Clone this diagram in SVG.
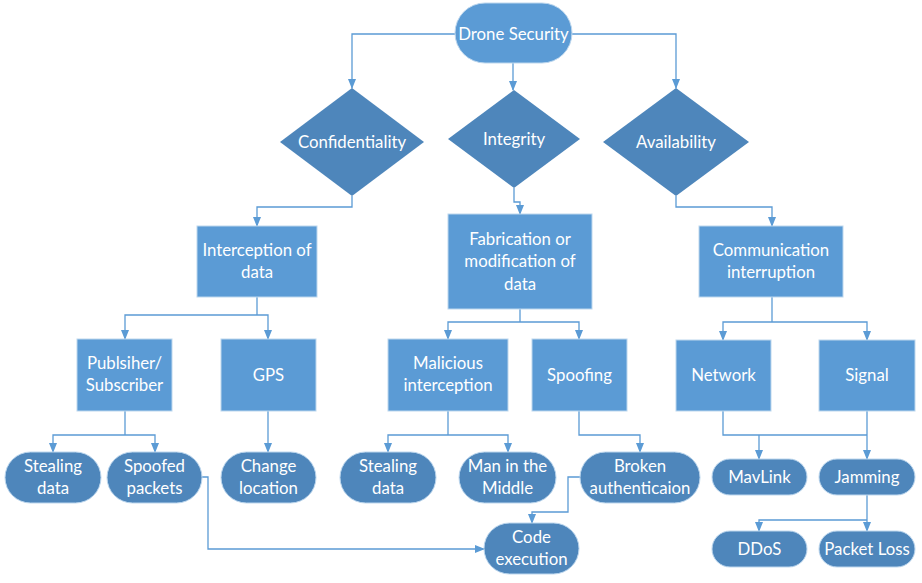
<svg xmlns="http://www.w3.org/2000/svg" width="922" height="583" viewBox="0 0 922 583">
<defs>
<marker id="arr" markerWidth="10" markerHeight="8" refX="9" refY="4" orient="auto" markerUnits="userSpaceOnUse">
<path d="M0,0 L10,4 L0,8 Z" fill="#5B9BD5"/>
</marker>
</defs>
<style>
.box{fill:#5B9BD5;stroke:#BDD7EE;stroke-width:1}
.dark{fill:#4E86BB;stroke:#BDD7EE;stroke-width:1}
.dia{fill:#4E86BB}
.ln{fill:none;stroke:#5B9BD5;stroke-width:1.3}
.ln-a{fill:none;stroke:#5B9BD5;stroke-width:1.3;marker-end:url(#arr)}
text{font-family:Lato,"Open Sans","Liberation Sans",sans-serif;font-size:16.8px;fill:#FFFFFF;text-anchor:middle}
</style>
<rect width="922" height="583" fill="#FFFFFF"/>
<g id="connectors">
<path class="ln-a" d="M455,34 H352 V88"/>
<path class="ln-a" d="M572,34 H676 V88"/>
<path class="ln-a" d="M513,63 V90"/>
<path class="ln-a" d="M352,196 V207 H257 V226"/>
<path class="ln-a" d="M514,188 V202 H520 V214"/>
<path class="ln-a" d="M676,196 V207 H772 V226"/>
<path class="ln" d="M257,297 V315"/>
<path class="ln-a" d="M257,315 H125 V339"/>
<path class="ln-a" d="M257,315 H268 V339"/>
<path class="ln" d="M520,309 V322"/>
<path class="ln-a" d="M520,322 H448 V339"/>
<path class="ln-a" d="M520,322 H579 V339"/>
<path class="ln" d="M772,297 V322"/>
<path class="ln-a" d="M772,322 H723 V340"/>
<path class="ln-a" d="M772,322 H867 V340"/>
<path class="ln" d="M125,411 V435"/>
<path class="ln-a" d="M125,435 H53 V452"/>
<path class="ln-a" d="M125,435 H155 V452"/>
<path class="ln-a" d="M268,411 V452"/>
<path class="ln" d="M448,411 V435"/>
<path class="ln-a" d="M448,435 H388 V452"/>
<path class="ln-a" d="M448,435 H508 V452"/>
<path class="ln-a" d="M579,411 V435 H640 V452"/>
<path class="ln-a" d="M580,477 H568 V512 H532 V523"/>
<path class="ln-a" d="M202,477 H208 V549 H484"/>
<path class="ln" d="M723,411 V435 H867"/>
<path class="ln-a" d="M759,435 V459"/>
<path class="ln-a" d="M867,411 V459"/>
<path class="ln-a" d="M867,495 V531"/>
<path class="ln-a" d="M867,520 H759 V531"/>
</g>
<g id="drone-security">
<rect class="box" x="455" y="3" width="117" height="60" rx="30"/>
<text x="513.5" y="40">Drone Security</text>
</g>
<g id="confidentiality">
<polygon class="dia" points="352,88 424,142 352,196 280,142"/>
<text x="352" y="148">Confidentiality</text>
</g>
<g id="integrity">
<polygon class="dia" points="514,90 580,139 514,188 448,139"/>
<text x="514" y="145">Integrity</text>
</g>
<g id="availability">
<polygon class="dia" points="676,88 749,142 676,196 603,142"/>
<text x="676" y="148">Availability</text>
</g>
<g id="interception">
<rect class="box" x="197" y="226" width="120" height="71"/>
<text x="257" y="256">Interception of</text>
<text x="257" y="278">data</text>
</g>
<g id="fabrication">
<rect class="box" x="448" y="214" width="144" height="95"/>
<text x="520" y="245">Fabrication or</text>
<text x="520" y="267">modification of</text>
<text x="520" y="290">data</text>
</g>
<g id="communication">
<rect class="box" x="699" y="226" width="144" height="71"/>
<text x="771" y="256">Communication</text>
<text x="771" y="278">interruption</text>
</g>
<g id="pubsub">
<rect class="box" x="77" y="339" width="95" height="72"/>
<text x="124.5" y="369">Publsiher/</text>
<text x="124.5" y="391">Subscriber</text>
</g>
<g id="gps">
<rect class="box" x="221" y="339" width="95" height="72"/>
<text x="268.5" y="381">GPS</text>
</g>
<g id="malicious">
<rect class="box" x="388" y="339" width="120" height="72"/>
<text x="448" y="369">Malicious</text>
<text x="448" y="391">interception</text>
</g>
<g id="spoofing">
<rect class="box" x="532" y="339" width="95" height="72"/>
<text x="579.5" y="381">Spoofing</text>
</g>
<g id="network">
<rect class="box" x="676" y="340" width="95" height="71"/>
<text x="723.5" y="381">Network</text>
</g>
<g id="signal">
<rect class="box" x="819" y="340" width="96" height="71"/>
<text x="867" y="381">Signal</text>
</g>
<g id="stealing-1">
<rect class="dark" x="5" y="452" width="96" height="51" rx="25.5"/>
<text x="53" y="472">Stealing</text>
<text x="53" y="494">data</text>
</g>
<g id="spoofed-packets">
<rect class="dark" x="107" y="452" width="95" height="51" rx="25.5"/>
<text x="154.5" y="472">Spoofed</text>
<text x="154.5" y="494">packets</text>
</g>
<g id="change-location">
<rect class="dark" x="221" y="452" width="95" height="51" rx="25.5"/>
<text x="268.5" y="472">Change</text>
<text x="268.5" y="494">location</text>
</g>
<g id="stealing-2">
<rect class="dark" x="340" y="452" width="96" height="51" rx="25.5"/>
<text x="388" y="472">Stealing</text>
<text x="388" y="494">data</text>
</g>
<g id="mitm">
<rect class="dark" x="459" y="452" width="97" height="51" rx="25.5"/>
<text x="507.5" y="472">Man in the</text>
<text x="507.5" y="494">Middle</text>
</g>
<g id="broken-auth">
<rect class="dark" x="580" y="452" width="120" height="51" rx="25.5"/>
<text x="640" y="472">Broken</text>
<text x="640" y="494">authenticaion</text>
</g>
<g id="code-execution">
<rect class="dark" x="484" y="523" width="95" height="51" rx="25.5"/>
<text x="531.5" y="543">Code</text>
<text x="531.5" y="565">execution</text>
</g>
<g id="mavlink">
<rect class="dark" x="712" y="459" width="95" height="36" rx="18"/>
<text x="759.5" y="483">MavLink</text>
</g>
<g id="jamming">
<rect class="dark" x="819" y="459" width="96" height="36" rx="18"/>
<text x="867" y="483">Jamming</text>
</g>
<g id="ddos">
<rect class="dark" x="712" y="531" width="95" height="36" rx="18"/>
<text x="759.5" y="555">DDoS</text>
</g>
<g id="packet-loss">
<rect class="dark" x="819" y="531" width="96" height="36" rx="18"/>
<text x="867" y="555">Packet Loss</text>
</g>
</svg>
